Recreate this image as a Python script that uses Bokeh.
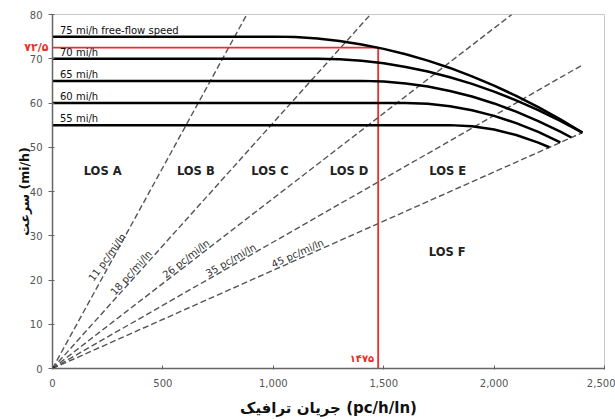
import math
from bokeh.plotting import figure
from bokeh.models import Range1d, LinearAxis, NumeralTickFormatter, FixedTicker, Label
from bokeh.core.properties import value
from bokeh.embed import file_html
from bokeh.resources import INLINE

# ---------------- data ----------------
x_ticks = [0, 500, 1000, 1500, 2000, 2500]
y_ticks = [0, 10, 20, 30, 40, 50, 60, 70, 80]

# speed-flow curves: flow (pc/h/ln) vs speed (mi/h)
flow_75 = [0, 1000, 1100, 1200, 1300, 1400, 1500, 1600, 1700, 1800, 1900, 2000, 2100, 2200, 2300, 2400]
speed_75 = [75, 75, 74.89, 74.56, 74.00, 73.23, 72.23, 71.01, 69.58, 67.92, 66.03, 63.93, 61.61, 59.06, 56.29, 53.3]
flow_70 = [0, 1200, 1300, 1400, 1500, 1600, 1700, 1800, 1900, 2000, 2100, 2200, 2300, 2400]
speed_70 = [70, 70, 69.88, 69.54, 68.96, 68.14, 67.10, 65.82, 64.32, 62.58, 60.60, 58.40, 55.96, 53.3]
flow_65 = [0, 1400, 1500, 1600, 1700, 1800, 1900, 2000, 2100, 2200, 2300, 2350]
speed_65 = [65, 65, 64.86, 64.43, 63.72, 62.73, 61.46, 59.90, 58.05, 55.92, 53.51, 52.2]
flow_60 = [0, 1600, 1700, 1800, 1900, 2000, 2100, 2200, 2300]
speed_60 = [60, 60, 59.82, 59.27, 58.37, 57.09, 55.46, 53.46, 51.1]
flow_55 = [0, 1800, 1900, 2000, 2100, 2200, 2250]
speed_55 = [55, 55, 54.75, 54.01, 52.78, 51.05, 50.0]

curve_labels = ["75 mi/h free-flow speed", "70 mi/h", "65 mi/h", "60 mi/h", "55 mi/h"]
curve_label_speed = [75, 70, 65, 60, 55]
curve_label_flow = [34, 34, 34, 34, 34]

# density boundaries (pc/mi/ln)
density = [11, 18, 26, 35, 45]
density_labels = ["11 pc/mi/ln", "18 pc/mi/ln", "26 pc/mi/ln", "35 pc/mi/ln", "45 pc/mi/ln"]
density_end_flow = [880, 1440, 2080, 2400, 2400]
density_end_speed = [80, 80, 80, 68.6, 53.3]
density_label_flow = [268, 375, 620, 820, 1120]
density_label_speed = [24.4, 20.8, 23.8, 23.4, 24.9]

# LOS region labels
los_text = ["LOS A", "LOS B", "LOS C", "LOS D", "LOS E", "LOS F"]
los_flow = [227, 649, 985, 1343, 1790, 1788]
los_speed = [44.6, 44.6, 44.6, 44.6, 44.6, 26.4]

# highlighted operating point
red_flow = 1475
red_speed = 72.5
red_flow_label = "۱۴۷۵"
red_speed_label = "۷۲/۵"

x_label = "جریان ترافیک (pc/h/ln)"
y_label = "سرعت (mi/h)"

# ---------------- figure ----------------
W, H = 615, 419
ML, MR, MT, MB = 52, 11, 14, 50
p = figure(width=W, height=H, x_range=Range1d(0, 2500), y_range=Range1d(0, 80),
           output_backend="svg", toolbar_location=None,
           min_border_left=ML, min_border_right=MR, min_border_top=MT, min_border_bottom=MB)
p.background_fill_color = "white"
p.border_fill_color = "white"
p.outline_line_color = "#c8c8c8"
p.outline_line_width = 1
p.xgrid.visible = False
p.ygrid.visible = False

font = value("DejaVu Sans")
RED = "#e8302a"

# density (dashed) lines
p.segment(x0=[0] * len(density), y0=[0] * len(density), x1=density_end_flow, y1=density_end_speed,
          line_color="#555555", line_width=1.4, line_dash="6 3")

# density labels rotated along lines
fw = W - ML - MR
fh = H - MT - MB
px_x = fw / 2500.0
px_y = fh / 80.0
angles = [math.atan((px_y / k) / px_x) for k in density]
angles[0] = math.radians(54)  # the steepest label is drawn a little flatter than its line
p.text(x=density_label_flow, y=density_label_speed, text=density_labels, angle=angles,
       text_font=font, text_font_size="10px", text_color="#333333",
       text_align="center", text_baseline="bottom")

# red operating point lines
p.line([0, red_flow], [red_speed, red_speed], line_color=RED, line_width=1.8)
p.line([red_flow, red_flow], [0, red_speed], line_color=RED, line_width=1.8)

# speed-flow curves
for fx, sy in [(flow_75, speed_75), (flow_70, speed_70), (flow_65, speed_65),
               (flow_60, speed_60), (flow_55, speed_55)]:
    p.line(fx, sy, line_color="black", line_width=2.5)

p.text(x=curve_label_flow, y=curve_label_speed, text=curve_labels, text_font=font,
       text_font_size="10px", text_color="#111111", text_align="left", text_baseline="bottom",
       y_offset=-1)

p.text(x=los_flow, y=los_speed, text=los_text, text_font=font, text_font_size="11.5px",
       text_font_style="bold", text_color="#222222", text_align="center", text_baseline="middle")

p.scatter([0], [0], size=4, color="black")

p.add_layout(Label(x=red_flow, y=0, text=red_flow_label, x_offset=-4, y_offset=5, text_align="right",
                   text_baseline="bottom", text_color=RED, text_font="DejaVu Sans", text_font_size="10px",
                   text_font_style="bold"))

# axes
p.xaxis.ticker = FixedTicker(ticks=x_ticks)
p.yaxis.ticker = FixedTicker(ticks=y_ticks)
p.xaxis.formatter = NumeralTickFormatter(format="0,0")
for ax in (p.xaxis, p.yaxis):
    ax.axis_line_color = "#666666"
    ax.axis_line_width = 1.5
    ax.major_tick_line_color = "#666666"
    ax.minor_tick_line_color = None
    ax.major_label_text_font = "DejaVu Sans"
    ax.major_label_text_font_size = "10px"
    ax.major_label_text_color = "#555555"
    ax.axis_label_text_font = "DejaVu Sans"
    ax.axis_label_text_font_style = "bold"
    ax.axis_label_text_color = "#111111"
p.xaxis.axis_label_text_font_size = "15px"
p.yaxis.axis_label_text_font_size = "12.5px"
p.xaxis.major_tick_in = 3
p.xaxis.major_tick_out = 1
p.yaxis.major_tick_in = 2
p.yaxis.major_tick_out = 4
p.xaxis.major_label_standoff = 9
p.yaxis.major_label_standoff = 6
p.xaxis.axis_label = x_label
p.yaxis.axis_label = y_label
p.xaxis.axis_label_standoff = 9
p.yaxis.axis_label_standoff = -5

# extra left axis carrying only the red speed value label
red_axis = LinearAxis(ticker=FixedTicker(ticks=[red_speed]),
                      major_label_overrides={red_speed: red_speed_label},
                      axis_line_color=None, major_tick_line_color=None, minor_tick_line_color=None,
                      major_label_text_color=RED, major_label_text_font="DejaVu Sans",
                      major_label_text_font_size="11px", major_label_text_font_style="bold",
                      major_label_standoff=-41)
p.add_layout(red_axis, "left")

open("out.html", "w").write(file_html(p, INLINE))
